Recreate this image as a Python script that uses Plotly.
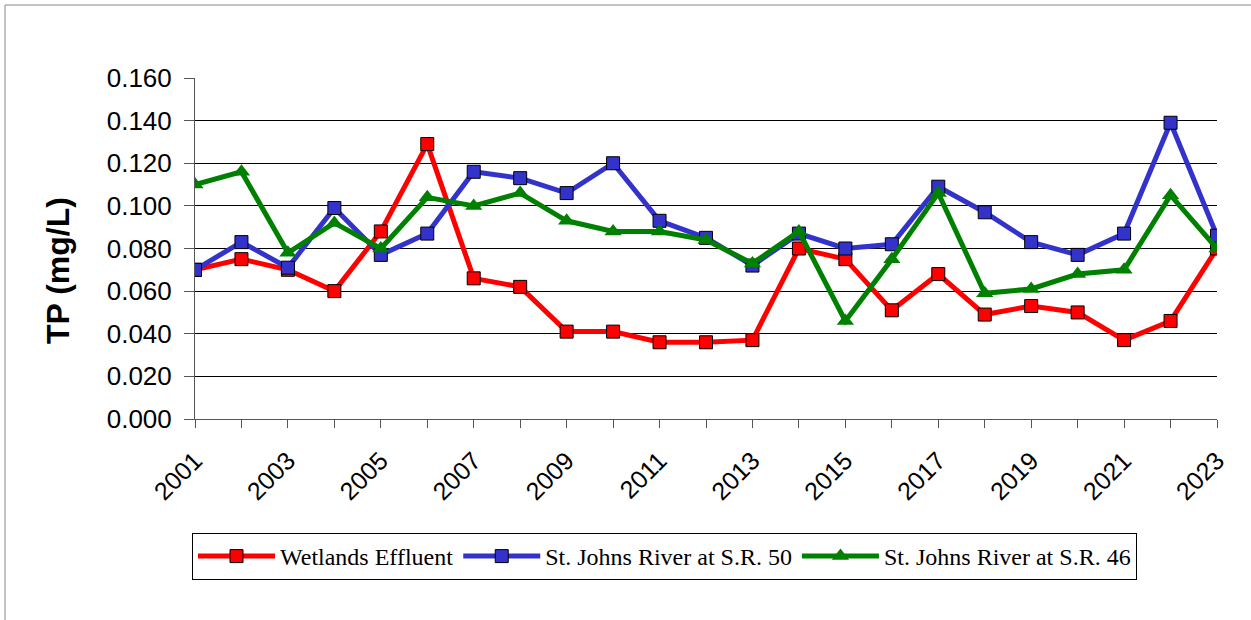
import plotly.graph_objects as go

years = list(range(2001, 2024))
wetlands = [0.070, 0.075, 0.070, 0.060, 0.088, 0.129, 0.066, 0.062, 0.041, 0.041, 0.036, 0.036,
            0.037, 0.080, 0.075, 0.051, 0.068, 0.049, 0.053, 0.050, 0.037, 0.046, 0.080]
sr50 = [0.070, 0.083, 0.071, 0.099, 0.077, 0.087, 0.116, 0.113, 0.106, 0.120, 0.093, 0.085,
        0.072, 0.087, 0.080, 0.082, 0.109, 0.097, 0.083, 0.077, 0.087, 0.139, 0.086]
sr46 = [0.110, 0.116, 0.078, 0.092, 0.080, 0.104, 0.100, 0.106, 0.093, 0.088, 0.088, 0.084,
        0.073, 0.088, 0.046, 0.075, 0.106, 0.059, 0.061, 0.068, 0.070, 0.105, 0.080]
names = ["Wetlands Effluent", "St. Johns River at S.R. 50", "St. Johns River at S.R. 46"]
y_title = "TP (mg/L)"
tick_text = [str(y) if (y - 2001) % 2 == 0 else "" for y in years]

fig = go.Figure()
fig.add_trace(go.Scatter(x=years, y=wetlands, name=names[0], mode="lines+markers",
                         line=dict(color="#FF0000", width=5),
                         marker=dict(symbol="square", size=13, color="#FF0000",
                                     line=dict(color="#000000", width=1))))
fig.add_trace(go.Scatter(x=years, y=sr50, name=names[1], mode="lines+markers",
                         line=dict(color="#3333CC", width=5),
                         marker=dict(symbol="square", size=13, color="#3333CC",
                                     line=dict(color="#000000", width=1))))
fig.add_trace(go.Scatter(x=years, y=sr46, name=names[2], mode="lines+markers",
                         line=dict(color="#008000", width=5),
                         marker=dict(symbol="triangle-up", size=15, color="#008000",
                                     line=dict(color="#008000", width=0))))

L, R, T, B = 195, 34, 78, 201
PW, PH = 1251 - L - R, 620 - T - B

fig.update_layout(
    width=1251, height=620,
    margin=dict(l=L, r=R, t=T, b=B),
    paper_bgcolor="white", plot_bgcolor="white",
    font=dict(family="Arial", color="black"),
    showlegend=True,
    legend=dict(orientation="h", x=(192 - L) / PW, xanchor="left",
                y=(620 - B - 533) / PH, yanchor="top",
                bordercolor="black", borderwidth=1,
                font=dict(family="Liberation Serif", size=24, color="black"),
                itemwidth=77, tracegroupgap=0),
    xaxis=dict(range=[2001, 2023], tickvals=years, ticktext=tick_text, tickangle=-45,
               ticks="outside", ticklen=8, tickcolor="#555555",
               ticklabelstandoff=8,
               showline=True, linecolor="#555555", linewidth=1,
               showgrid=False, zeroline=False,
               tickfont=dict(family="Arial", size=25, color="black")),
    yaxis=dict(range=[0, 0.160], dtick=0.02, tickformat=".3f",
               ticks="outside", ticklen=10, tickcolor="#555555",
               ticklabelstandoff=7,
               showline=True, linecolor="#555555", linewidth=1,
               showgrid=True, gridcolor="black", gridwidth=1, zeroline=False,
               tickfont=dict(family="Arial", size=26, color="black")),
    annotations=[dict(text="<b>" + y_title + "</b>", xref="paper", yref="paper",
                      x=(58 - L) / PW, y=(620 - B - 271) / PH, xanchor="center", yanchor="middle",
                      textangle=-90, showarrow=False,
                      font=dict(family="Arial", size=32, color="black"))],
    shapes=[dict(type="line", xref="paper", yref="paper",
                 x0=(5 - L) / PW, x1=(5 - L) / PW,
                 y0=(620 - B - 620) / PH, y1=(620 - B - 5) / PH,
                 line=dict(color="#888888", width=1)),
            dict(type="line", xref="paper", yref="paper",
                 x0=(5 - L) / PW, x1=(1251 - L) / PW,
                 y0=(620 - B - 5) / PH, y1=(620 - B - 5) / PH,
                 line=dict(color="#888888", width=1))],
)

fig.write_html("out.html", config={"displayModeBar": False},
               post_script="document.body.style.margin='0';")
